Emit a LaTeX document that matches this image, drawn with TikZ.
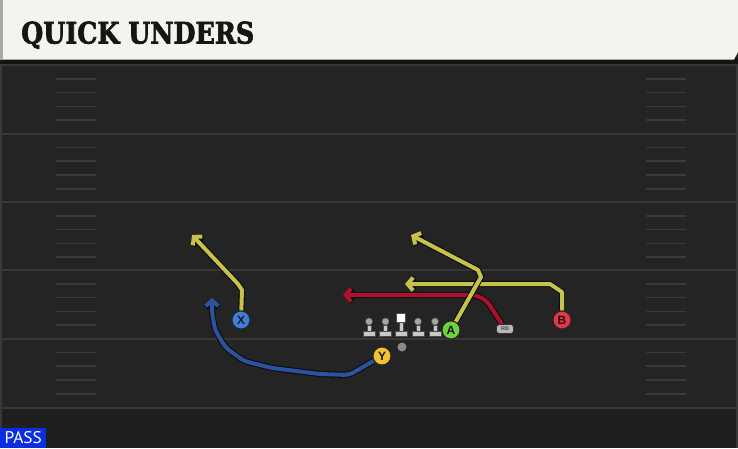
\documentclass[tikz,border=0pt]{standalone}
\usepackage{fontspec}
\usepackage{graphicx}
\usetikzlibrary{arrows.meta}
\newfontfamily\titlefont{DejaVu Serif}[BoldFeatures={FakeBold=2.5}]
\newfontfamily\passfont{PT Sans}
\newfontfamily\plfont{Liberation Sans}
\definecolor{fieldbg}{HTML}{242424}
\definecolor{fieldlow}{HTML}{1F1F1F}
\definecolor{yardline}{HTML}{383838}
\definecolor{hashc}{HTML}{3A3A3A}
\definecolor{banner}{HTML}{F5F3EE}
\definecolor{bannerl}{HTML}{A8A8A8}
\definecolor{titleink}{HTML}{151515}
\definecolor{passblue}{HTML}{0A2EE0}
\definecolor{ycol}{HTML}{C6C24C}
\definecolor{rcol}{HTML}{B0102E}
\definecolor{bcol}{HTML}{2D52A0}
\definecolor{xfill}{HTML}{3F7FDB}
\definecolor{yfill}{HTML}{F2C330}
\definecolor{afill}{HTML}{6FD23C}
\definecolor{bfill}{HTML}{E8334A}
\definecolor{rbfill}{HTML}{B8B8B8}
\definecolor{qbgray}{HTML}{8A8A8A}
\definecolor{olgray}{HTML}{C8C8C8}
\definecolor{olhead}{HTML}{A5A5A5}
\begin{document}
\begin{tikzpicture}[x=1pt,y=-1pt,
  route/.style={draw=#1, line width=4pt, line join=round,
    -{Straight Barb[length=5.5pt,width=13pt]},
    preaction={draw=black!95, line width=6.2pt, line join=round,
      -{Straight Barb[length=5.5pt,width=13pt]}}},
  player/.style={circle, draw=black!85, line width=1pt, minimum size=18pt,
    inner sep=0pt, font=\plfont\bfseries\fontsize{12}{12}\selectfont, text=black!90},
  rbbox/.style={rounded corners=3pt, draw=black!80, line width=0.6pt, fill=rbfill,
    minimum width=17pt, minimum height=9pt, inner sep=0pt,
    font=\plfont\bfseries\fontsize{5.5}{5.5}\selectfont, text=black!70},
  yard/.style={draw=yardline, line width=2pt},
  hash/.style={draw=hashc, line width=1.6pt},
  lineman/.pic={
    \fill[olgray, draw=black!70, line width=0.5pt] (-6,-5) rectangle (6,0);
    \fill[olgray, draw=black!70, line width=0.5pt] (-2,-11) rectangle (2,-5);
    \fill[olhead, draw=black!70, line width=0.5pt] (0,-14.5) circle (3.6);
  },
  centerman/.pic={
    \fill[olgray, draw=black!70, line width=0.5pt] (-6,-5) rectangle (6,0);
    \fill[olgray, draw=black!70, line width=0.5pt] (-2,-14) rectangle (2,-5);
    \fill[white, draw=black!70, line width=0.5pt] (-4.5,-23) rectangle (4.5,-14);
  }]
\useasboundingbox (0,0) rectangle (738,448);
% field
\fill[fieldbg] (0,0) rectangle (738,448);
\fill[fieldlow] (0,408) rectangle (738,448);
\draw[draw=yardline, line width=1.2pt] (1,60) -- (1,448);
\draw[draw=yardline, line width=1.2pt] (737,60) -- (737,448);
\foreach \y in {65,133.5,202,270,338.5,408} \draw[yard] (0,\y) -- (738,\y);
\foreach \y in {65,133.5,202,270,338.5}
  \foreach \k in {1,2,3,4}
  {
    \draw[hash] (56,\y+\k*13.8) -- (96,\y+\k*13.8);
    \draw[hash] (646,\y+\k*13.8) -- (686,\y+\k*13.8);
  }
% banner
\fill[black!92] (0,58) rectangle (738,64);
\fill[banner] (0,0) -- (738,0) -- (738,52) -- (734,59.5) -- (0,59.5) -- cycle;
\fill[bannerl] (0,0) rectangle (3,59.5);
\node[anchor=base west, inner sep=0pt, text=titleink] (title) at (21,43.5)
  {\resizebox{233pt}{22pt}{\titlefont\bfseries QUICK UNDERS}};
% players
\node[player, fill=xfill] (X) at (241,320) {X};
\node[player, fill=yfill] (Y) at (382,356) {Y};
\node[player, fill=afill] (A) at (451,330) {A};
\node[player, fill=bfill] (B) at (562,320) {B};
\node[rbbox] (RB) at (505,329) {RB};
\node[circle, fill=qbgray, minimum size=9pt, inner sep=0pt] (QB) at (402,347) {};
\coordinate (xt) at (192,235);
\coordinate (yt) at (212,298);
\coordinate (at) at (411,235);
\coordinate (bt) at (405,284);
\coordinate (rt) at (343,295);
% routes
\draw[route=rcol, rounded corners=5pt] (RB) -- (487,301) -- (476,295) -- (rt);
\draw[route=bcol, rounded corners=5pt] (Y) -- (349,375) -- (320,374) -- (272,368)
  -- (244,361) -- (226,348) -- (215,330) -- (212,312) -- (yt);
\draw[route=ycol] (X) -- (242,290) -- (238,284) -- (xt);
\draw[route=ycol] (B) -- (562,292) -- (550,284) -- (bt);
\draw[route=ycol] (A) -- (481,277) -- (478,270) -- (at);
% redraw player nodes on top
\node[player, fill=xfill] at (X) {X};
\node[player, fill=yfill] at (Y) {Y};
\node[player, fill=afill] at (A) {A};
\node[player, fill=bfill] at (B) {B};
\node[rbbox] at (RB) {RB};
% line
\pic at (369,336) {lineman};
\pic at (385.5,336) {lineman};
\pic at (401,336) {centerman};
\pic at (418,336) {lineman};
\pic at (435,336) {lineman};
% pass label
\node[fill=passblue, anchor=south west, minimum width=46pt, minimum height=20pt,
  inner sep=0pt, text=white] (pass) at (0,448) {\resizebox{37pt}{12pt}{\passfont PASS}};
\end{tikzpicture}
\end{document}
